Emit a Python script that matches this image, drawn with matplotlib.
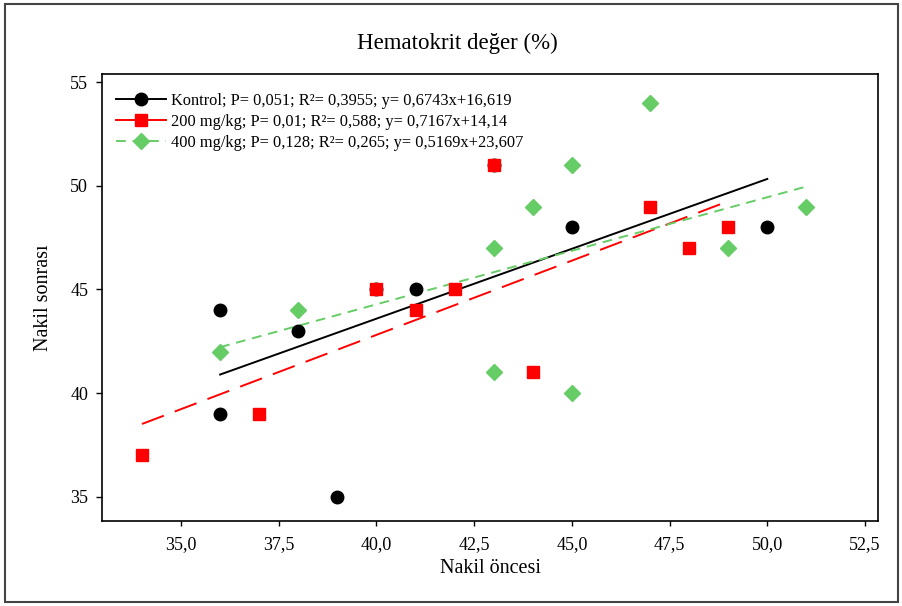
import numpy as np
import matplotlib
matplotlib.use("Agg")
import matplotlib.pyplot as plt
from matplotlib.lines import Line2D
from matplotlib.patches import Rectangle

plt.rcParams['font.family'] = ['Liberation Serif', 'DejaVu Serif']

# veriler
kontrol_x = [40, 36, 36, 38, 39, 41, 43, 45, 50]
kontrol_y = [45, 44, 39, 43, 35, 45, 51, 48, 48]

mg200_x = [34, 37, 40, 41, 42, 43, 44, 47, 48, 49]
mg200_y = [37, 39, 45, 44, 45, 51, 41, 49, 47, 48]

mg400_x = [36, 38, 43, 43, 44, 45, 45, 47, 49, 51]
mg400_y = [42, 44, 47, 41, 49, 51, 40, 54, 47, 49]

# regresyon denklemleri (egim, sabit)
kontrol_fit = (0.6743, 16.619)
mg200_fit = (0.7167, 14.14)
mg400_fit = (0.5169, 23.607)

etiketler = ["Kontrol; P= 0,051; R²= 0,3955; y= 0,6743x+16,619",
             "200 mg/kg; P= 0,01; R²= 0,588; y= 0,7167x+14,14",
             "400 mg/kg; P= 0,128; R²= 0,265; y= 0,5169x+23,607"]

xticks = [35.0, 37.5, 40.0, 42.5, 45.0, 47.5, 50.0, 52.5]
yticks = [35, 40, 45, 50, 55]

verde = '#66cc66'

fig = plt.figure(figsize=(9.02, 6.06), dpi=100)
ax = fig.add_axes([0.1128, 0.1408, 0.8609, 0.7371])

# cizgiler (denklemden)
def fit_line(xs, fit):
    xx = np.array([min(xs), max(xs)])
    return xx, fit[0] * xx + fit[1]

xx, yy = fit_line(kontrol_x, kontrol_fit)
ax.plot(xx, yy, color='black', lw=1.4, zorder=2)
xx, yy = fit_line(mg200_x, mg200_fit)
ax.plot(xx, yy, color='red', lw=1.4, dashes=(12, 6), zorder=2)
xx, yy = fit_line(mg400_x, mg400_fit)
ax.plot(xx, yy, color=verde, lw=1.4, dashes=(5, 3.5), zorder=2)

# noktalar
ax.plot(kontrol_x, kontrol_y, 'o', color='black', ms=9, ls='none', zorder=3)
ax.plot(mg200_x, mg200_y, 's', color='red', ms=8.5, ls='none', zorder=4)
ax.plot(mg400_x, mg400_y, 'D', color=verde, ms=8, ls='none', zorder=5)

ax.set_xlim(32.97, 52.84)
ax.set_ylim(33.84, 55.4)
ax.set_xticks(xticks)
ax.set_xticklabels([f"{t:.1f}".replace('.', ',') for t in xticks])
ax.set_yticks(yticks)
ax.tick_params(direction='out', width=1, labelsize=13)
ax.tick_params(axis='y', length=4.3, pad=5.5)
ax.tick_params(axis='x', length=3.6, pad=7.5)
for s in ax.spines.values():
    s.set_linewidth(1.2)

ax.set_xlabel("Nakil öncesi", fontsize=14.5, labelpad=4)
ax.set_ylabel("Nakil sonrası", fontsize=14.5, labelpad=12)
fig.text(0.507, 0.928, "Hematokrit değer (%)", fontsize=16.5, ha='center', va='center')

handles = [Line2D([], [], color='black', lw=1.4, marker='o', ms=9),
           Line2D([], [], color='red', lw=1.4, marker='s', ms=8.5),
           Line2D([], [], color=verde, lw=1.4, marker='D', ms=8, dashes=(5, 3.5))]
ax.legend(handles, etiketler, loc='upper left', frameon=False, fontsize=11.8,
          handlelength=3.0, handletextpad=0.3, labelspacing=0.3,
          borderaxespad=0.5, bbox_to_anchor=(0.0, 0.99))

# dis cerceve
fig.patches.append(Rectangle((5 / 902, 4 / 606), 893 / 902, 598 / 606,
                             transform=fig.transFigure, fill=False,
                             edgecolor='#444444', lw=1.5))

fig.savefig("out.png", dpi=100)
